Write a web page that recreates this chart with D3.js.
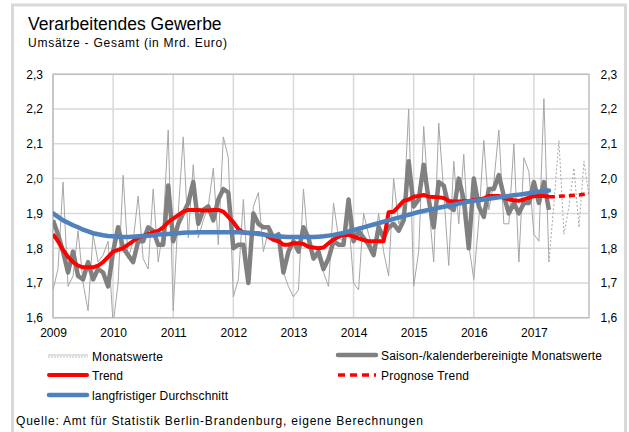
<!DOCTYPE html>
<html>
<head>
<meta charset="utf-8">
<script src="https://cdn.jsdelivr.net/npm/d3@7"></script>
<style>
  html, body { margin: 0; padding: 0; background: #fff; }
  svg text { font-family: "Liberation Sans", Arial, sans-serif; fill: #000; }
</style>
</head>
<body>
<div id="vis"></div>
<script>
/* Data (Mrd. Euro), monthly from Jan 2009 */
const years = ["2009","2010","2011","2012","2013","2014","2015","2016","2017"];
const yTicks = [1.6, 1.7, 1.8, 1.9, 2.0, 2.1, 2.2, 2.3];

const monatswerte = [
  1.68,1.74,1.99,1.69,1.72,1.85,1.70,1.62,1.84,1.76,1.78,1.82,
  1.58,1.70,2.01,1.77,1.82,1.95,1.77,1.74,1.97,1.76,1.86,2.14,
  1.62,1.90,2.12,1.83,2.04,1.83,1.88,1.92,2.03,1.81,2.12,2.06,
  1.66,1.71,1.94,1.70,1.92,1.96,1.79,1.85,1.84,1.84,1.73,1.69,
  1.66,1.68,1.97,1.80,1.78,1.77,1.73,1.69,1.93,1.83,1.82,1.89,
  1.70,1.68,1.90,1.84,1.79,1.90,1.79,1.72,2.00,1.87,1.90,2.20,
  1.69,1.79,2.15,1.93,1.76,2.16,1.96,1.75,2.05,1.87,2.07,1.81,
  1.71,1.88,2.11,1.91,1.99,2.14,1.87,1.87,2.10,1.76,2.06,2.02,
  1.84,1.82,2.23,1.76
];
// forecast months (starting with the last real value)
const monatswertePrognose = [1.76,1.93,2.11,1.84,1.92,2.03,1.86,2.05,1.95];

const saisonbereinigt = [
  1.88,1.84,1.79,1.73,1.79,1.72,1.71,1.76,1.71,1.74,1.73,1.69,
  1.79,1.86,1.80,1.78,1.76,1.82,1.82,1.86,1.85,1.81,1.81,1.98,
  1.82,1.87,1.90,1.93,1.99,1.87,1.91,1.92,1.88,1.94,1.97,1.96,
  1.80,1.81,1.81,1.70,1.90,1.87,1.86,1.86,1.83,1.84,1.73,1.79,
  1.82,1.79,1.86,1.83,1.77,1.79,1.74,1.77,1.82,1.81,1.81,1.94,
  1.82,1.85,1.83,1.81,1.78,1.86,1.83,1.86,1.87,1.85,1.88,2.05,
  1.92,1.94,2.04,1.94,1.86,1.99,1.98,1.92,1.91,2.00,1.94,1.80,
  2.00,1.92,1.89,1.97,1.97,2.01,1.95,1.90,1.93,1.90,1.93,1.93,
  1.99,1.93,1.99,1.91
];

const trend = [
  1.840,1.820,1.795,1.775,1.760,1.750,1.745,1.745,1.745,1.750,1.760,1.775,
  1.790,1.795,1.800,1.810,1.820,1.830,1.835,1.840,1.845,1.850,1.860,1.875,
  1.885,1.895,1.905,1.910,1.910,1.910,1.908,1.908,1.910,1.910,1.905,1.890,
  1.875,1.855,1.845,1.843,1.843,1.843,1.840,1.833,1.824,1.820,1.810,1.810,
  1.814,1.814,1.812,1.804,1.802,1.800,1.802,1.814,1.825,1.833,1.838,1.838,
  1.833,1.828,1.823,1.820,1.820,1.820,1.820,1.903,1.905,1.920,1.936,1.940,
  1.948,1.950,1.953,1.948,1.947,1.946,1.944,1.936,1.934,1.934,1.935,1.935,
  1.939,1.940,1.943,1.950,1.950,1.950,1.945,1.940,1.938,1.936,1.940,1.945,
  1.950,1.951,1.950,1.948
];
const trendPrognose = [1.948,1.948,1.949,1.950,1.951,1.952,1.953,1.955,1.957];

const durchschnitt = [
  1.900,1.890,1.880,1.873,1.866,1.860,1.853,1.848,1.843,1.840,1.837,1.835,
  1.834,1.833,1.832,1.832,1.833,1.834,1.835,1.836,1.837,1.839,1.840,1.841,
  1.842,1.843,1.844,1.845,1.845,1.846,1.846,1.846,1.846,1.846,1.846,1.846,
  1.846,1.846,1.845,1.844,1.843,1.841,1.839,1.837,1.835,1.834,1.833,1.832,
  1.832,1.832,1.832,1.832,1.832,1.833,1.834,1.836,1.838,1.841,1.844,1.848,
  1.852,1.856,1.860,1.864,1.868,1.872,1.876,1.880,1.884,1.888,1.892,1.896,
  1.900,1.904,1.907,1.910,1.913,1.916,1.919,1.922,1.925,1.928,1.931,1.934,
  1.936,1.938,1.940,1.942,1.944,1.946,1.948,1.950,1.952,1.954,1.956,1.958,
  1.960,1.962,1.964,1.966
];

const nMonths = 108;                 // Jan 2009 .. Dec 2017
const progStart = monatswerte.length - 1;

/* Layout */
const W = 629, H = 432;
const plot = { left: 53, right: 589, top: 74.3, bottom: 317.7 };

const svg = d3.select("#vis").append("svg")
    .attr("width", W).attr("height", H);

/* outer frame */
svg.append("rect")
    .attr("x", 12.5).attr("y", 5).attr("width", 613).attr("height", 440)
    .attr("fill", "none").attr("stroke", "#d9d9d9").attr("stroke-width", 3);

/* titles */
svg.append("text").attr("x", 28).attr("y", 29.5)
    .style("font-size", "17.5px").text("Verarbeitendes Gewerbe");
svg.append("text").attr("x", 28).attr("y", 47)
    .style("font-size", "12px").attr("textLength", 199).attr("lengthAdjust", "spacing")
    .text("Umsätze - Gesamt (in Mrd. Euro)");

/* scales */
const x = d3.scaleLinear().domain([0, nMonths - 1]).range([plot.left, plot.right]);
const y = d3.scaleLinear().domain([1.6, 2.3]).range([plot.bottom, plot.top]);
const fmt = v => d3.format(".1f")(v).replace(".", ",");

/* grid */
const grid = svg.append("g");
grid.selectAll(".hg").data(yTicks).join("line")
    .attr("x1", plot.left).attr("x2", plot.right)
    .attr("y1", d => y(d)).attr("y2", d => y(d))
    .attr("stroke", "#d9d9d9").attr("stroke-width", 1.5);
grid.selectAll(".vg").data(years).join("line")
    .attr("x1", (d, i) => x(i * 12)).attr("x2", (d, i) => x(i * 12))
    .attr("y1", plot.top).attr("y2", plot.bottom)
    .attr("stroke", "#d9d9d9").attr("stroke-width", 1.5);
svg.append("rect")
    .attr("x", plot.left).attr("y", plot.top)
    .attr("width", plot.right - plot.left).attr("height", plot.bottom - plot.top)
    .attr("fill", "none").attr("stroke", "#bfbfbf").attr("stroke-width", 1.5);

/* axes (labels only) */
const axisL = d3.axisLeft(y).tickValues(yTicks).tickFormat(fmt).tickSize(0).tickPadding(10);
const axisR = d3.axisRight(y).tickValues(yTicks).tickFormat(fmt).tickSize(0).tickPadding(11.5);
const axisB = d3.axisBottom(x).tickValues(years.map((d, i) => i * 12))
    .tickFormat((d, i) => years[i]).tickSize(0).tickPadding(11);

[[axisL, `translate(${plot.left},0)`], [axisR, `translate(${plot.right},0)`],
 [axisB, `translate(0,${plot.bottom})`]].forEach(([ax, tr]) => {
  const g = svg.append("g").attr("transform", tr).call(ax);
  g.select(".domain").remove();
  g.selectAll("text").style("font-size", "12px")
    .style("font-family", '"Liberation Sans", Arial, sans-serif').attr("fill", "#000");
});

/* lines */
svg.append("clipPath").attr("id", "clip").append("rect")
    .attr("x", plot.left).attr("y", plot.top)
    .attr("width", plot.right - plot.left).attr("height", plot.bottom - plot.top);
const lines = svg.append("g").attr("clip-path", "url(#clip)");

const line = off => d3.line().x((d, i) => x(i + off)).y(d => y(d));

lines.append("path").datum(monatswerte)
    .attr("d", line(0)).attr("fill", "none")
    .attr("stroke", "#a6a6a6").attr("stroke-width", 1);
lines.append("path").datum(monatswertePrognose)
    .attr("d", line(progStart)).attr("fill", "none")
    .attr("stroke", "#a6a6a6").attr("stroke-width", 1).attr("stroke-dasharray", "2,2");
lines.append("path").datum(saisonbereinigt)
    .attr("d", line(0)).attr("fill", "none")
    .attr("stroke", "#808080").attr("stroke-width", 4.5).attr("stroke-linejoin", "round");
lines.append("path").datum(trend)
    .attr("d", line(0)).attr("fill", "none")
    .attr("stroke", "#ff0000").attr("stroke-width", 4).attr("stroke-linejoin", "round");
lines.append("path").datum(trendPrognose)
    .attr("d", line(progStart)).attr("fill", "none")
    .attr("stroke", "#ff0000").attr("stroke-width", 3.5).attr("stroke-dasharray", "6,4");
lines.append("path").datum(durchschnitt)
    .attr("d", line(0)).attr("fill", "none")
    .attr("stroke", "#4f81bd").attr("stroke-width", 4.5).attr("stroke-linecap", "round");

/* legend (tw = rendered text width in the reference) */
const legend = [
  { label: "Monatswerte", x: 48, y: 356, type: "monthly", tw: 71 },
  { label: "Saison-/kalenderbereinigte Monatswerte", x: 337, y: 355, color: "#808080", w: 4.5, tw: 221 },
  { label: "Trend", x: 48, y: 375, color: "#ff0000", w: 4, tw: 31 },
  { label: "Prognose Trend", x: 337, y: 375, color: "#ff0000", w: 3.5, dash: "7,5", tw: 88 },
  { label: "langfristiger Durchschnitt", x: 48, y: 395, color: "#4f81bd", w: 4.5, tw: 136 }
];
const lg = svg.append("g").selectAll("g").data(legend).join("g");
lg.each(function(d) {
  const g = d3.select(this);
  if (d.type === "monthly") {
    g.append("line").attr("x1", d.x).attr("x2", d.x + 40).attr("y1", d.y - 1).attr("y2", d.y - 1)
      .attr("stroke", "#bfbfbf").attr("stroke-width", 1);
    g.append("line").attr("x1", d.x).attr("x2", d.x + 40).attr("y1", d.y + 1).attr("y2", d.y + 1)
      .attr("stroke", "#bfbfbf").attr("stroke-width", 1).attr("stroke-dasharray", "2,1");
  } else {
    g.append("line").attr("x1", d.x + 1).attr("x2", d.x + 39).attr("y1", d.y).attr("y2", d.y)
      .attr("stroke", d.color).attr("stroke-width", d.w)
      .attr("stroke-linecap", d.dash ? "butt" : "round")
      .attr("stroke-dasharray", d.dash || null);
  }
  g.append("text").attr("x", d.x + 44).attr("y", d.y + 4.5)
    .style("font-size", "12px")
    .attr("textLength", d.tw).attr("lengthAdjust", "spacing")
    .text(d.label);
});

svg.append("text").attr("x", 16).attr("y", 424.5)
    .style("font-size", "12px")
    .attr("textLength", 407).attr("lengthAdjust", "spacing")
    .text("Quelle: Amt für Statistik Berlin-Brandenburg, eigene Berechnungen");
</script>
</body>
</html>
